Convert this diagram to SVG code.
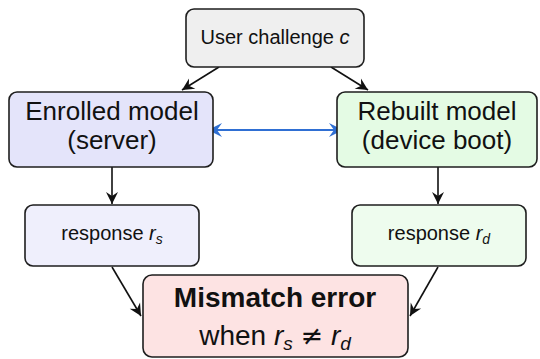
<svg xmlns="http://www.w3.org/2000/svg" width="540" height="359" viewBox="0 0 540 359">
  <style>
    .box { stroke: #1e1e1e; stroke-width: 1.6; }
    .lbl { font-family: "Liberation Sans", Arial, Helvetica, sans-serif; fill: #111; text-anchor: middle; }
    .m { font-style: italic; }
    .edge { fill: none; stroke: #111; stroke-width: 1.6; }
    .blue { fill: none; stroke: #2f6fd3; stroke-width: 1.8; }
  </style>
  <defs>
    <marker id="ah" markerUnits="userSpaceOnUse" markerWidth="16" markerHeight="14" refX="0" refY="0" viewBox="-13 -7 15 14" orient="auto">
      <path d="M0,0 L-12,-6 L-8,0 L-12,6 Z" fill="#111"/>
    </marker>
    <marker id="ahb" markerUnits="userSpaceOnUse" markerWidth="18" markerHeight="16" refX="0" refY="0" viewBox="-15 -8 17 16" orient="auto-start-reverse">
      <path d="M0,0 L-14,-7 L-9,0 L-14,7 Z" fill="#2f6fd3"/>
    </marker>
  </defs>

  <g id="connectors">
    <path class="edge" d="M219,67 L182,90" marker-end="url(#ah)"/>
    <path class="edge" d="M331,67 L368,90" marker-end="url(#ah)"/>
    <path class="edge" d="M112,167 L112,204" marker-end="url(#ah)"/>
    <path class="edge" d="M438,167 L438,204" marker-end="url(#ah)"/>
    <path class="edge" d="M112,267 L141,316" marker-end="url(#ah)"/>
    <path class="edge" d="M438,267 L410,316" marker-end="url(#ah)"/>
    <path class="blue" d="M208,130 L343,130" marker-start="url(#ahb)" marker-end="url(#ahb)"/>
  </g>

  <g id="challenge">
    <rect class="box" x="186" y="9" width="178" height="58" rx="8" fill="#efefef"/>
    <text class="lbl" x="275" y="44" font-size="20">User challenge <tspan class="m">c</tspan></text>
  </g>

  <g id="enrolled">
    <rect class="box" x="9" y="92" width="204" height="75" rx="8" fill="#e4e4fa"/>
    <text class="lbl" x="112" y="120" font-size="26">Enrolled model</text>
    <text class="lbl" x="112" y="149" font-size="26">(server)</text>
  </g>

  <g id="rebuilt">
    <rect class="box" x="337" y="92" width="200" height="75" rx="8" fill="#e4fbe4"/>
    <text class="lbl" x="437" y="120" font-size="26">Rebuilt model</text>
    <text class="lbl" x="437" y="149" font-size="26">(device boot)</text>
  </g>

  <g id="resp-server">
    <rect class="box" x="25" y="205" width="174" height="61" rx="8" fill="#efeffc"/>
    <text class="lbl" x="112" y="240" font-size="20">response <tspan class="m">r</tspan><tspan class="m" font-size="14" dy="4">s</tspan></text>
  </g>

  <g id="resp-device">
    <rect class="box" x="352" y="205" width="174" height="61" rx="8" fill="#eefcee"/>
    <text class="lbl" x="439" y="240" font-size="20">response <tspan class="m">r</tspan><tspan class="m" font-size="14" dy="4">d</tspan></text>
  </g>

  <g id="mismatch">
    <rect class="box" x="143" y="275" width="265" height="82" rx="9" fill="#fde3e3"/>
    <text class="lbl" x="275" y="307" font-size="28" font-weight="bold">Mismatch error</text>
    <text class="lbl" x="275" y="345" font-size="28">when <tspan class="m">r</tspan><tspan class="m" font-size="19" dy="5">s</tspan><tspan dy="-5"> </tspan><tspan font-family="DejaVu Sans, sans-serif" font-size="27">≠</tspan><tspan> </tspan><tspan class="m">r</tspan><tspan class="m" font-size="19" dy="5">d</tspan></text>
  </g>
</svg>
